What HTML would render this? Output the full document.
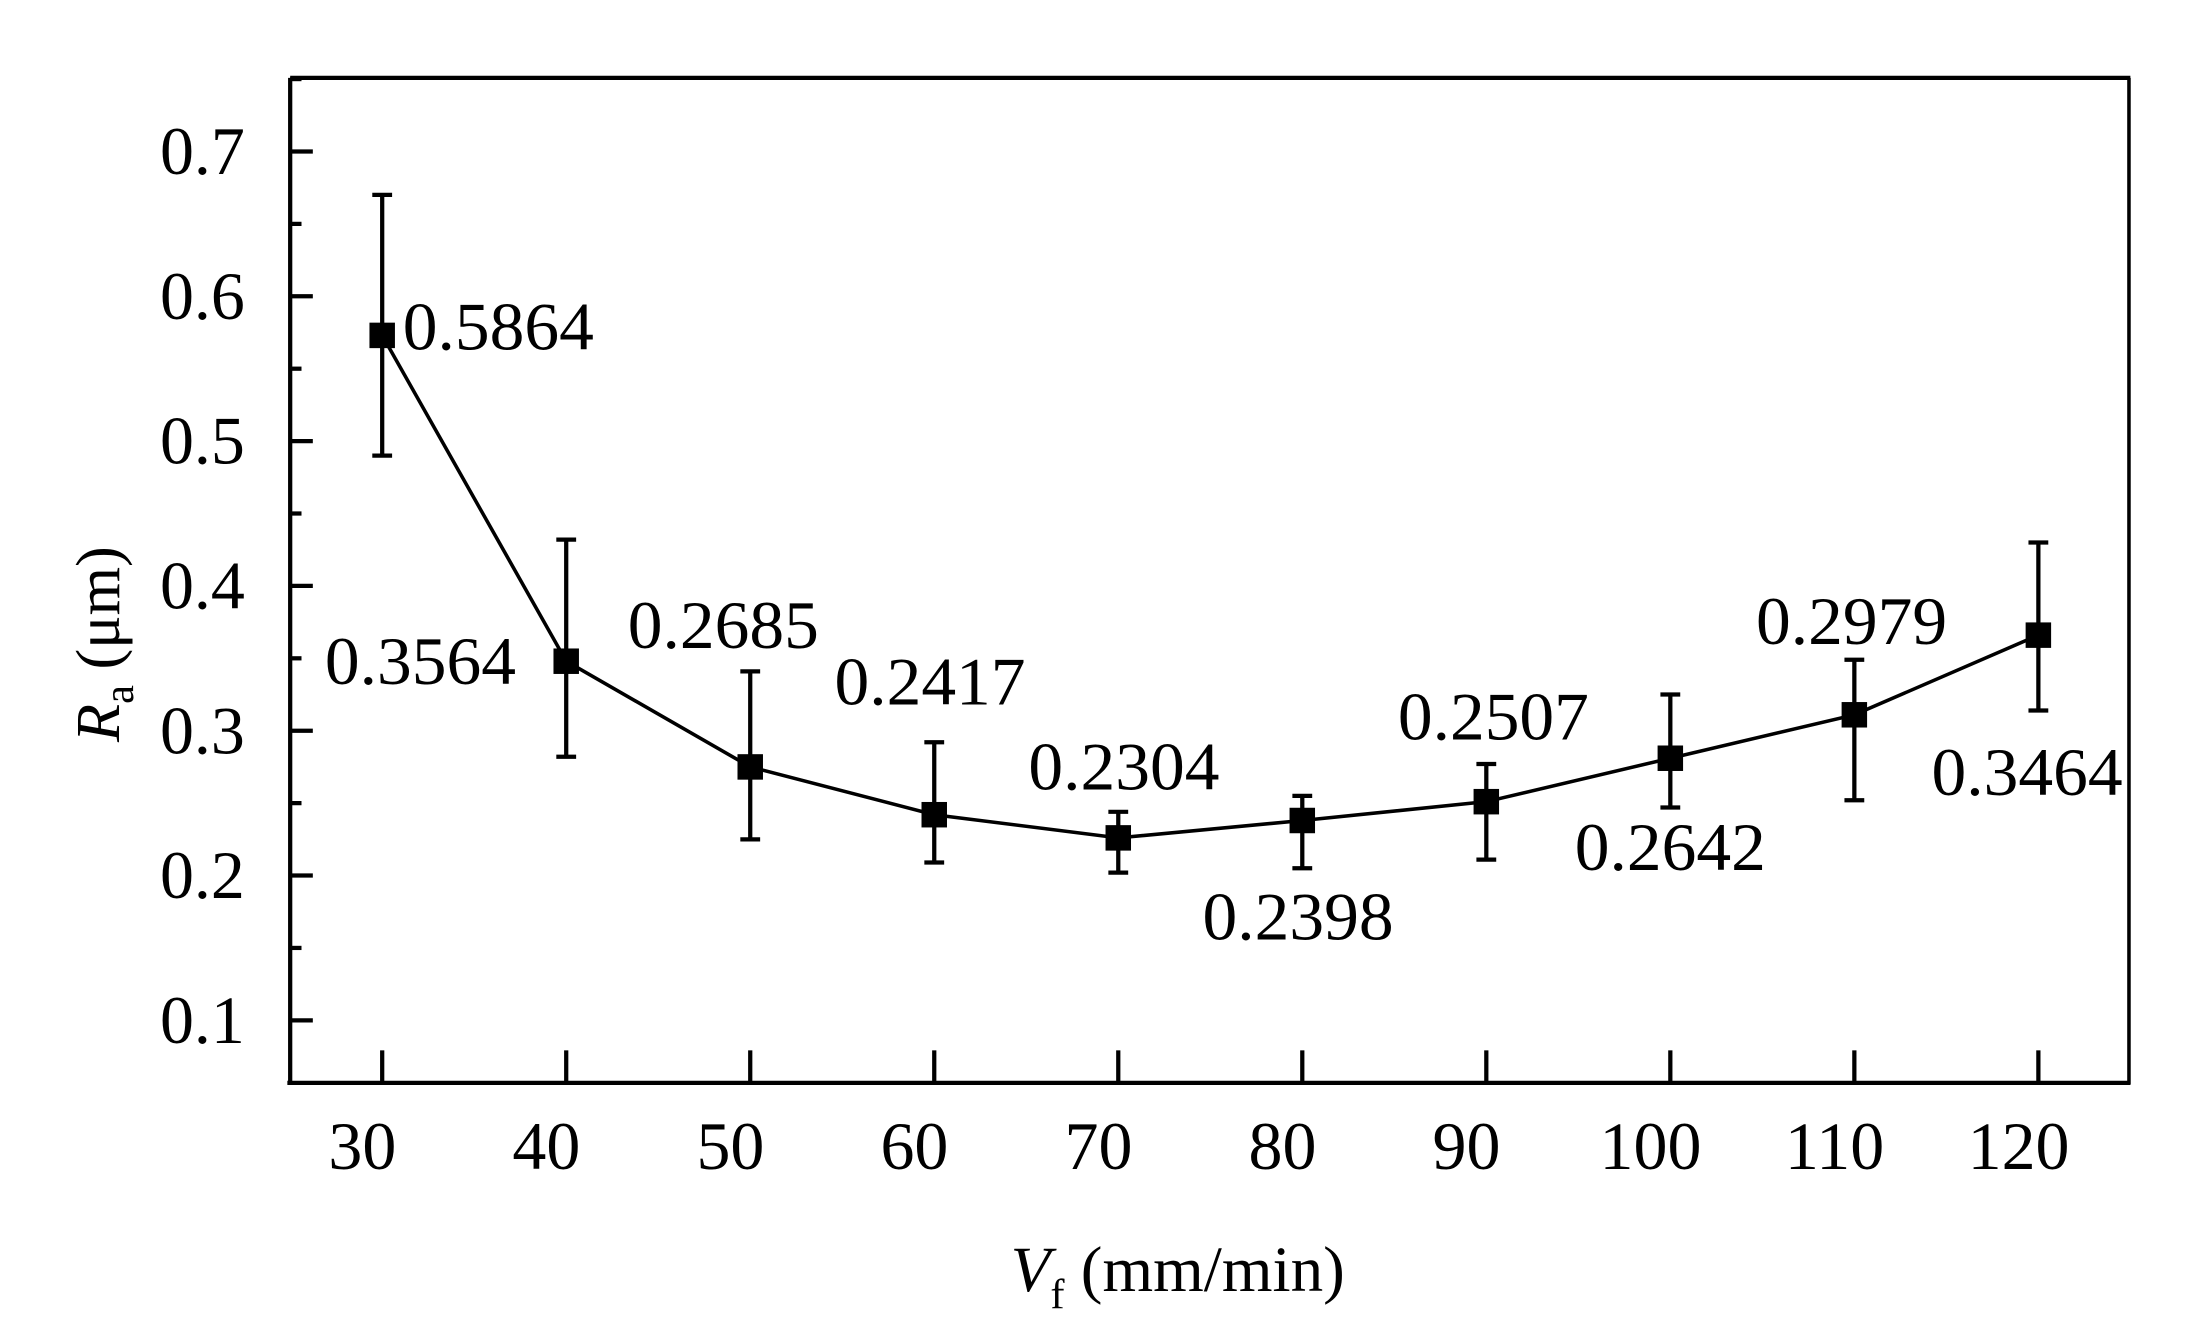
<!DOCTYPE html>
<html><head><meta charset="utf-8"><style>
html,body{margin:0;padding:0;background:#fff;}
svg{display:block;}
text{font-family:"Liberation Serif",serif;fill:#000;}
</style></head><body>
<svg id="chart" width="2187" height="1323" viewBox="0 0 1545 934.6" xmlns="http://www.w3.org/2000/svg">
<rect x="0" y="0" width="1545" height="935" fill="#fff"/>
<g id="frame">
<line x1="205" y1="55" x2="1505" y2="55" stroke="#000" stroke-width="3"/>
<line x1="1504" y1="55" x2="1504" y2="766" stroke="#000" stroke-width="2.5"/>
<line x1="205" y1="55" x2="205" y2="766" stroke="#000" stroke-width="3"/>
<line x1="203" y1="765" x2="1505" y2="765" stroke="#000" stroke-width="3"/>
</g>
<g id="ticks"></g>
<g id="series"></g>
<g id="labels"></g>
<text transform="translate(84,455) rotate(-90)" text-anchor="middle" font-size="44"><tspan font-style="italic">R</tspan><tspan font-size="30" dy="10">a</tspan><tspan dy="-10">  (μm)</tspan></text>
<text x="832" y="912" text-anchor="middle" font-size="46"><tspan font-style="italic">V</tspan><tspan font-size="30" dy="12">f</tspan><tspan dy="-12"> (mm/min)</tspan></text>
</svg>
<script>
const categories=[30,40,50,60,70,80,90,100,110,120];
const raValues=[0.573,0.348,0.275,0.242,0.226,0.238,0.251,0.281,0.311,0.366];
const errUpper=[0.670,0.432,0.341,0.292,0.244,0.255,0.277,0.325,0.349,0.430];
const errLower=[0.490,0.282,0.225,0.209,0.202,0.205,0.211,0.247,0.252,0.314];
const pointLabels=["0.5864","0.3564","0.2685","0.2417","0.2304","0.2398","0.2507","0.2642","0.2979","0.3464"];
const yTicks=[0.1,0.2,0.3,0.4,0.5,0.6,0.7];
const yTickLabels=["0.1","0.2","0.3","0.4","0.5","0.6","0.7"];
const xTickLabels=["30","40","50","60","70","80","90","100","110","120"];

const NS="http://www.w3.org/2000/svg";
function x(v){return 270+(v-30)*13;}
function y(v){return 107+(0.7-v)*1023;}
function mk(tag,attrs,parent){const e=document.createElementNS(NS,tag);for(const k in attrs)e.setAttribute(k,attrs[k]);parent.appendChild(e);return e;}
const tg=document.getElementById('ticks');
yTicks.forEach((v,i)=>{
  const l=mk('line',{x1:205,x2:221,y1:y(v),y2:y(v),stroke:'#000','stroke-width':3},tg);
  
  
  const m=mk('line',{x1:205,x2:213,y1:y(v+0.05),y2:y(v+0.05),stroke:'#000','stroke-width':3},tg);
  
  
  const t=mk('text',{x:173,y:y(v)+16,'text-anchor':'end','font-size':48},tg);
  t.textContent=yTickLabels[i];
  
  
});
categories.forEach((c,i)=>{
  const l=mk('line',{x1:x(c),x2:x(c),y1:742,y2:765,stroke:'#000','stroke-width':3},tg);
  
  
  const t=mk('text',{x:x(c)-14,y:826,'text-anchor':'middle','font-size':48},tg);
  t.textContent=xTickLabels[i];
  
  
});
const sg=document.getElementById('series');
const line=mk('polyline',{points:categories.map((c,i)=>x(c)+','+y(raValues[i])).join(' '),fill:'none',stroke:'#000','stroke-width':2.5},sg);


categories.forEach((c,i)=>{
  const cx=x(c);
  const e=mk('path',{d:`M${cx},${y(errUpper[i])}V${y(errLower[i])}M${cx-7},${y(errUpper[i])}H${cx+7}M${cx-7},${y(errLower[i])}H${cx+7}`,stroke:'#000','stroke-width':3,fill:'none'},sg);
  
  
  const p=mk('rect',{x:cx-9,y:y(raValues[i])-9,width:18,height:18,fill:'#000'},sg);
  
  
});
const lg=document.getElementById('labels');
const labelOffsets=[[82,10],[-103,16],[-19,-84],[-3,-78],[4,-34],[-3,84],[5,-44],[0,79],[-2,-50],[-8,113]];
categories.forEach((c,i)=>{
  const t=mk('text',{x:x(c)+labelOffsets[i][0],y:y(raValues[i])+labelOffsets[i][1],'text-anchor':'middle','font-size':48,textLength:135,lengthAdjust:'spacingAndGlyphs'},lg);
  t.textContent=pointLabels[i];
  
  
});
</script>
</body></html>
